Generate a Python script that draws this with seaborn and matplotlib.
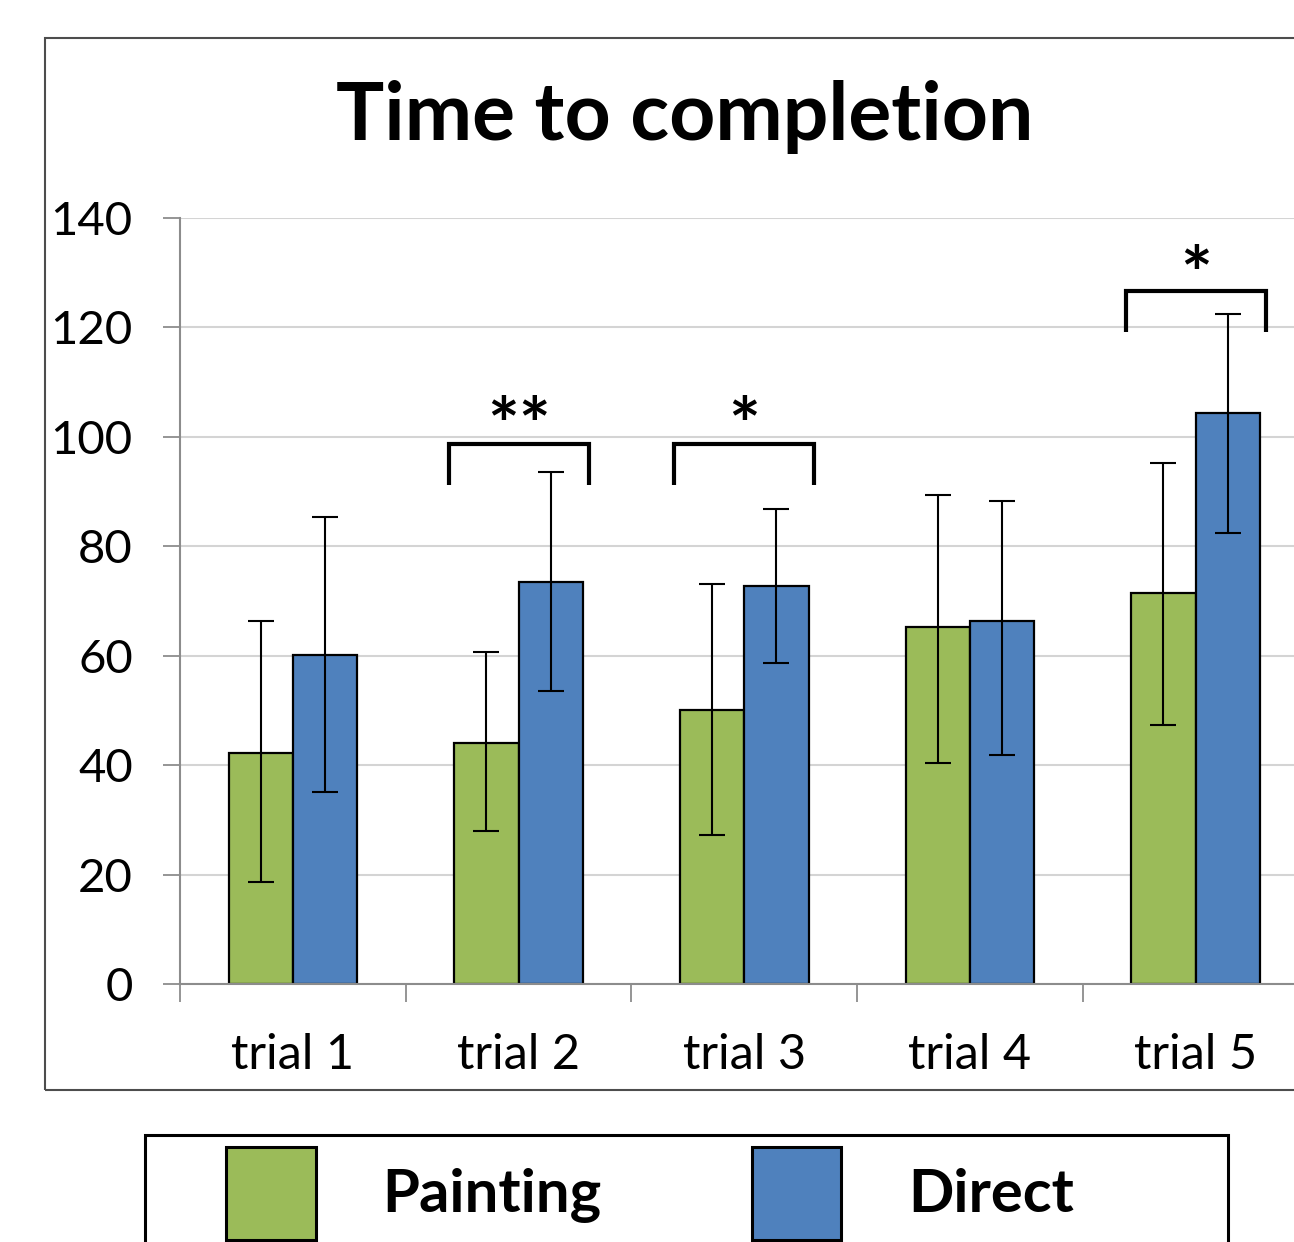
import matplotlib
matplotlib.use("Agg")
import matplotlib.pyplot as plt
from matplotlib.patches import Rectangle, Patch
from matplotlib.ticker import FixedLocator
import numpy as np
import pandas as pd
import seaborn as sns

# ---- data -------------------------------------------------------------
categories = ["trial 1", "trial 2", "trial 3", "trial 4", "trial 5"]
methods = ["Painting", "Direct"]

painting_mean = [42.3, 44.1, 50.1, 65.3, 71.5]
painting_err_low = [23.7, 16.2, 22.9, 24.9, 24.1]
painting_err_high = [24.1, 16.5, 23.0, 24.1, 23.8]

direct_mean = [60.1, 73.5, 72.8, 66.3, 104.4]
direct_err_low = [25.0, 20.0, 14.2, 24.4, 22.0]
direct_err_high = [25.2, 20.0, 14.1, 22.0, 18.1]

y_ticks = [0, 20, 40, 60, 80, 100, 120, 140]

# significance markers between the two methods
sig_trials = ["trial 2", "trial 3", "trial 5"]
sig_labels = ["**", "*", "*"]
sig_bracket_top = [98.7, 98.7, 126.7]
sig_bracket_leg = [91.2, 91.2, 119.2]
sig_label_y = [101.3, 101.3, 129.0]

# ---- style ------------------------------------------------------------
GREEN = "#9BBB59"
BLUE = "#4F81BD"
AXIS_GREY = "#8C8C8C"
GRID_GREY = "#D4D4D4"

sns.set_style("white")
plt.rcParams["font.family"] = ["Lato", "DejaVu Sans"]
plt.rcParams["text.color"] = "black"

W, H = 1294, 1242
fig = plt.figure(figsize=(W / 100, H / 100), dpi=100)
ax = fig.add_axes([180 / W, 258 / H, 1128.5 / W, 766 / H])

df = pd.DataFrame({
    "trial": categories * 2,
    "method": [methods[0]] * len(categories) + [methods[1]] * len(categories),
    "time": painting_mean + direct_mean,
})

sns.barplot(
    data=df, x="trial", y="time", hue="method",
    order=categories, hue_order=methods,
    palette=[GREEN, BLUE], saturation=1, width=0.57,
    errorbar=None, edgecolor="black", linewidth=1.6,
    legend=False, ax=ax,
)

# error bars placed on the bars seaborn drew
err_sets = [(painting_err_low, painting_err_high), (direct_err_low, direct_err_high)]
for container, (lo, hi) in zip(ax.containers, err_sets):
    xs = [p.get_x() + p.get_width() / 2 for p in container.patches]
    hs = [p.get_height() for p in container.patches]
    ax.errorbar(xs, hs, yerr=[lo, hi], fmt="none", ecolor="black",
                elinewidth=1.5, capsize=9.4, capthick=1.5, zorder=3)

# significance brackets
half = 0.31
for trial, label, top, leg, ty in zip(sig_trials, sig_labels,
                                     sig_bracket_top, sig_bracket_leg, sig_label_y):
    c = categories.index(trial)
    ax.plot([c - half, c - half, c + half, c + half], [leg, top, top, leg],
            color="black", linewidth=3.0, solid_joinstyle="miter",
            solid_capstyle="butt", clip_on=False, zorder=4)
    ax.text(c, ty, label, ha="center", va="center", fontsize=54,
            fontweight="bold", color="black")

# axes
ax.set_xlim(-0.5, len(categories) - 0.5)
ax.set_ylim(0, 140)
ax.set_yticks(y_ticks)
ax.set_xlabel("")
ax.set_ylabel("")
ax.set_axisbelow(True)
ax.yaxis.grid(True, color=GRID_GREY, linewidth=1.5)
ax.xaxis.grid(False)
for side in ("top", "right"):
    ax.spines[side].set_visible(False)
for side in ("left", "bottom"):
    ax.spines[side].set_color(AXIS_GREY)
    ax.spines[side].set_linewidth(1.5)

ax.tick_params(axis="y", which="major", length=12, width=1.3, color=AXIS_GREY,
               direction="out", labelsize=34, pad=22, left=True, labelcolor="black")
ax.tick_params(axis="x", which="major", length=0, labelsize=35, pad=35,
               labelcolor="black")
ax.xaxis.set_minor_locator(FixedLocator(np.arange(-0.5, len(categories), 1.0)))
ax.tick_params(axis="x", which="minor", length=13, width=1.3, color=AXIS_GREY,
               direction="out", bottom=True)

# title
fig.text(685 / W, 1 - 140 / H, "Time to completion", ha="center", va="baseline",
         fontsize=58, fontweight="bold", color="black")

# chart border
fig.add_artist(Rectangle((45 / W, 152 / H), 1.2, (1090 - 38) / H,
                         transform=fig.transFigure, fill=False,
                         edgecolor="#4D4D4D", linewidth=1.5))

# legend and its frame
fig.add_artist(Rectangle((145 / W, -0.1), (1228 - 145) / W, 0.1 + 107 / H,
                         transform=fig.transFigure, fill=False,
                         edgecolor="black", linewidth=2.2))
handles = [Patch(facecolor=GREEN, edgecolor="black", linewidth=2.2),
           Patch(facecolor=BLUE, edgecolor="black", linewidth=2.2)]
fs = 43
fig.legend(handles, methods, loc="upper left",
           bbox_to_anchor=(226 / W, 1 - 1147 / H), ncol=2, frameon=False,
           borderpad=0, borderaxespad=0,
           prop={"size": fs, "weight": "bold"}, labelcolor="black",
           handlelength=90 / 60, handleheight=2.02,
           handletextpad=67 / 60, columnspacing=151 / 60)

fig.savefig("out.png", dpi=100, facecolor="white")
